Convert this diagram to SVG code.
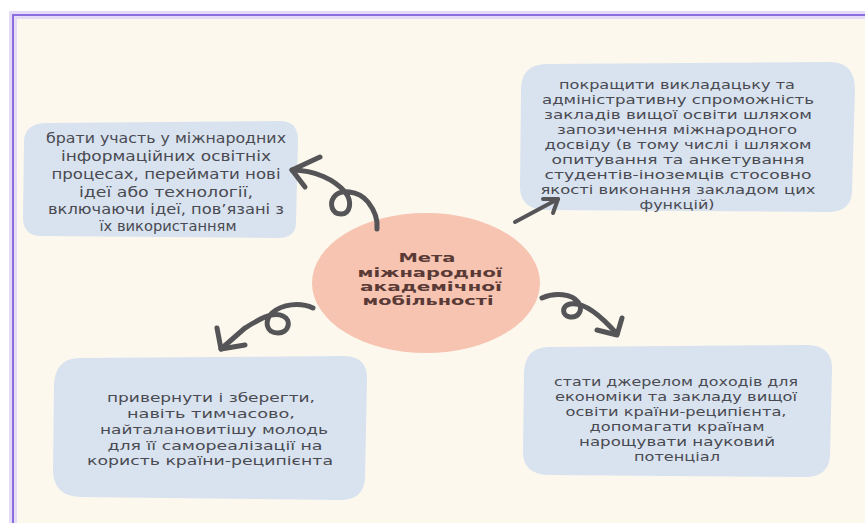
<svg xmlns="http://www.w3.org/2000/svg" width="865" height="523" viewBox="0 0 865 523">
  <style>
    .box { fill: #d8e3ef; }
    .txt { font-family: "DejaVu Sans", "Open Sans", sans-serif; fill: #4a4a52; text-anchor: middle; }
    .t1 { font-size: 14px; }
    .t2 { font-size: 12.5px; }
    .ctr { font-family: "DejaVu Sans", "Open Sans", sans-serif; font-weight: bold; font-size: 12px; fill: #5a3a36; text-anchor: middle; }
    .arr { fill: none; stroke: #555558; stroke-width: 5; stroke-linecap: round; stroke-linejoin: round; }
  </style>
  <rect x="0" y="0" width="865" height="523" fill="#ffffff"/>
  <rect x="13" y="15" width="852" height="508" fill="#fdf8ee"/>
  <g id="frame">
    <path d="M13,523 L13,15 L865,15" fill="none" stroke="#e6dbf7" stroke-width="8"/>
    <path d="M13,523 L13,15 L865,15" fill="none" stroke="#8a6ddf" stroke-width="2"/>
  </g>

  <g id="node-top-left">
    <path class="box" d="M45,123 L280,121 Q298,121 298,140 L296,222 Q296,238 278,238 L42,236 Q23,236 23,218 L24,142 Q24,124 45,123 Z"/>
    <text class="txt t1" x="166" y="143" textLength="240" lengthAdjust="spacingAndGlyphs">брати участь у міжнародних</text>
    <text class="txt t1" x="166" y="161" textLength="210" lengthAdjust="spacingAndGlyphs">інформаційних освітніх</text>
    <text class="txt t1" x="166" y="179" textLength="229" lengthAdjust="spacingAndGlyphs">процесах, переймати нові</text>
    <text class="txt t1" x="166" y="197" textLength="174" lengthAdjust="spacingAndGlyphs">ідеї або технології,</text>
    <text class="txt t1" x="166" y="214" textLength="236" lengthAdjust="spacingAndGlyphs">включаючи ідеї, пов’язані з</text>
    <text class="txt t1" x="168" y="231" textLength="137" lengthAdjust="spacingAndGlyphs">їх використанням</text>
  </g>

  <g id="node-top-right">
    <path class="box" d="M545,64 L830,62 Q855,62 855,90 L852,192 Q851,212 828,212 L545,210 Q519,209 520,185 L521,90 Q521,65 545,64 Z"/>
    <text class="txt t2" x="677" y="89" textLength="236" lengthAdjust="spacingAndGlyphs">покращити викладацьку та</text>
    <text class="txt t2" x="678" y="104" textLength="272" lengthAdjust="spacingAndGlyphs">адміністративну спроможність</text>
    <text class="txt t2" x="678" y="119" textLength="268" lengthAdjust="spacingAndGlyphs">закладів вищої освіти шляхом</text>
    <text class="txt t2" x="677" y="134" textLength="240" lengthAdjust="spacingAndGlyphs">запозичення міжнародного</text>
    <text class="txt t2" x="678" y="149" textLength="267" lengthAdjust="spacingAndGlyphs">досвіду (в тому числі і шляхом</text>
    <text class="txt t2" x="678" y="164" textLength="253" lengthAdjust="spacingAndGlyphs">опитування та анкетування</text>
    <text class="txt t2" x="678" y="179" textLength="267" lengthAdjust="spacingAndGlyphs">студентів-іноземців стосовно</text>
    <text class="txt t2" x="678" y="194" textLength="275" lengthAdjust="spacingAndGlyphs">якості виконання закладом цих</text>
    <text class="txt t2" x="677" y="209" textLength="75" lengthAdjust="spacingAndGlyphs">функцій)</text>
  </g>

  <g id="node-bottom-left">
    <path class="box" d="M78,358 L345,356 Q368,357 367,380 L365,478 Q364,500 340,500 L80,497 Q53,496 53,470 L54,385 Q55,359 78,358 Z"/>
    <text class="txt t2" x="211" y="402" textLength="208" lengthAdjust="spacingAndGlyphs">привернути і зберегти,</text>
    <text class="txt t2" x="211" y="418" textLength="168" lengthAdjust="spacingAndGlyphs">навіть тимчасово,</text>
    <text class="txt t2" x="214" y="434" textLength="228" lengthAdjust="spacingAndGlyphs">найталановитішу молодь</text>
    <text class="txt t2" x="215" y="450" textLength="215" lengthAdjust="spacingAndGlyphs">для її самореалізації на</text>
    <text class="txt t2" x="210" y="465" textLength="246" lengthAdjust="spacingAndGlyphs">користь країни-реципієнта</text>
  </g>

  <g id="node-bottom-right">
    <path class="box" d="M548,347 L808,345 Q833,346 832,370 L830,455 Q829,477 805,477 L548,475 Q522,474 523,450 L524,372 Q525,348 548,347 Z"/>
    <text class="txt t2" x="676" y="386" textLength="244" lengthAdjust="spacingAndGlyphs">стати джерелом доходів для</text>
    <text class="txt t2" x="676" y="401" textLength="242" lengthAdjust="spacingAndGlyphs">економіки та закладу вищої</text>
    <text class="txt t2" x="676" y="416" textLength="221" lengthAdjust="spacingAndGlyphs">освіти країни-реципієнта,</text>
    <text class="txt t2" x="677" y="431" textLength="175" lengthAdjust="spacingAndGlyphs">допомагати країнам</text>
    <text class="txt t2" x="677" y="446" textLength="196" lengthAdjust="spacingAndGlyphs">нарощувати науковий</text>
    <text class="txt t2" x="677" y="461" textLength="86" lengthAdjust="spacingAndGlyphs">потенціал</text>
  </g>

  <g id="node-center">
    <ellipse cx="426" cy="283" rx="114" ry="70" fill="#f6c4b1"/>
    <text class="ctr" x="427" y="262" textLength="57" lengthAdjust="spacingAndGlyphs">Мета</text>
    <text class="ctr" x="430" y="277" textLength="145" lengthAdjust="spacingAndGlyphs">міжнародної</text>
    <text class="ctr" x="431" y="291" textLength="142" lengthAdjust="spacingAndGlyphs">академічної</text>
    <text class="ctr" x="428" y="305" textLength="131" lengthAdjust="spacingAndGlyphs">мобільності</text>
  </g>

  <g id="connectors">
    <path class="arr" d="M377,229 C378,220 375,211 368,202 C358,190 340,189 334,197 C329,204 332,214 341,214 C350,214 353,202 345,192 C335,180 315,170 292,170"/>
    <path class="arr" d="M320,157 L292,170 L305,187"/>
    <path class="arr" d="M313,308 C300,302 282,304 272,313 C264,321 266,333 278,333 C289,333 292,320 283,316 C272,311 258,320 245,328 L221,349"/>
    <path class="arr" d="M217,328 L221,349 L245,345"/>
    <path class="arr" d="M542,298 C555,292 572,294 578,302 C584,310 578,318 570,317 C562,316 561,306 570,304 C585,301 603,318 617,334"/>
    <path class="arr" d="M622,318 L617,335 L597,330"/>
    <path class="arr" style="stroke-width:4" d="M515,222 L558,199"/>
    <path class="arr" style="stroke-width:4" d="M543,199 L558,199 L553,213"/>
  </g>
</svg>
